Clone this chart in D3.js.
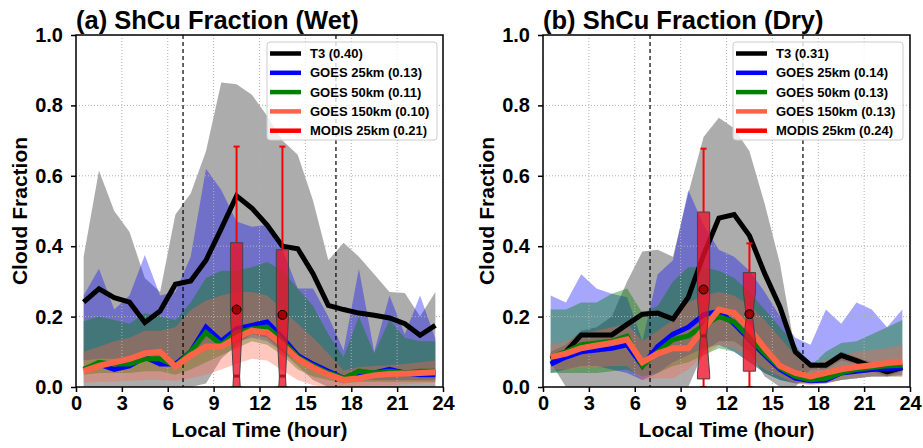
<!DOCTYPE html>
<html lang="en">
<head>
<meta charset="UTF-8">
<title>ShCu Fraction</title>
<script src="https://d3js.org/d3.v7.min.js"></script>
<style>
  body { margin: 0; background: #fff; }
  text { font-family: "Liberation Sans", Arial, sans-serif; font-weight: bold; }
</style>
</head>
<body>
<div id="chart"></div>
<script>
// local hour (bin centres)
const hours = [0.5,1.5,2.5,3.5,4.5,5.5,6.5,7.5,8.5,9.5,10.5,11.5,12.5,13.5,14.5,15.5,16.5,17.5,18.5,19.5,20.5,21.5,22.5,23.5];
const xTicks = [0,3,6,9,12,15,18,21,24];
const yTicks = [0,0.2,0.4,0.6,0.8,1.0];
const dashedHours = [7, 17];

// ---- wet ----
const wetT3    = [0.241,0.279,0.254,0.241,0.183,0.216,0.292,0.301,0.36,0.45,0.543,0.508,0.46,0.40,0.393,0.322,0.232,0.22,0.21,0.204,0.196,0.18,0.147,0.175];
const wetT3Hi  = [0.37,0.615,0.5,0.44,0.31,0.27,0.49,0.55,0.67,0.865,0.86,0.83,0.77,0.7,0.66,0.53,0.36,0.41,0.37,0.32,0.27,0.267,0.2,0.27];
const wetT3Lo  = [0,0,0,0,0,0,0,0,0.01,0.08,0.12,0.15,0.14,0.1,0.06,0.02,0,0,0,0,0,0,0,0];
const wetG25   = [0.05,0.065,0.05,0.06,0.085,0.065,0.065,0.1,0.17,0.13,0.165,0.175,0.185,0.14,0.09,0.065,0.045,0.025,0.03,0.04,0.05,0.04,0.035,0.035];
const wetG25Hi = [0.26,0.336,0.22,0.26,0.375,0.26,0.27,0.37,0.62,0.56,0.47,0.455,0.46,0.39,0.28,0.28,0.2,0.104,0.336,0.1,0.26,0.15,0.26,0.137];
const wetG25Lo = [0.075,0.08,0.08,0.08,0.085,0.085,0.07,0.09,0.11,0.12,0.13,0.14,0.13,0.1,0.07,0.05,0.03,0.02,0.02,0.02,0.02,0.02,0.02,0.02];
const wetG50   = [0.05,0.07,0.065,0.065,0.08,0.08,0.06,0.1,0.155,0.12,0.155,0.165,0.17,0.13,0.085,0.06,0.04,0.025,0.045,0.04,0.045,0.04,0.045,0.045];
const wetG50Hi = [0.187,0.2,0.19,0.18,0.21,0.2,0.19,0.24,0.31,0.33,0.33,0.34,0.355,0.33,0.28,0.23,0.15,0.085,0.2,0.095,0.19,0.14,0.13,0.13];
const wetG50Lo = [0.035,0.04,0.04,0.04,0.045,0.045,0.035,0.05,0.07,0.09,0.11,0.13,0.12,0.09,0.05,0.03,0.02,0.01,0.015,0.015,0.015,0.015,0.015,0.015];
const wetG150   = [0.045,0.06,0.07,0.08,0.095,0.1,0.058,0.09,0.115,0.115,0.14,0.16,0.155,0.12,0.08,0.055,0.035,0.02,0.025,0.033,0.037,0.038,0.04,0.042];
const wetG150Hi = [0.1,0.114,0.13,0.14,0.16,0.16,0.17,0.218,0.246,0.26,0.27,0.27,0.26,0.22,0.18,0.14,0.095,0.047,0.057,0.06,0.062,0.065,0.07,0.075];
const wetG150Lo = [0.012,0.015,0.015,0.018,0.02,0.02,0.018,0.025,0.035,0.05,0.066,0.08,0.075,0.047,0.02,0.005,0,0,0.003,0.005,0.005,0.008,0.01,0.012];
const wetBoxes = [
  { hour: 10.5, whislo: 0, q1: 0, med: 0.031, q3: 0.41, whishi: 0.683, mean: 0.22, notch: 0.17 },
  { hour: 13.5, whislo: 0, q1: 0, med: 0.031, q3: 0.39, whishi: 0.683, mean: 0.205, notch: 0.17 }
];
const wetLegend = ["T3 (0.40)", "GOES 25km (0.13)", "GOES 50km (0.11)", "GOES 150km (0.10)", "MODIS 25km (0.21)"];

// ---- dry ----
const dryT3    = [0.08,0.1,0.148,0.148,0.148,0.178,0.207,0.21,0.193,0.255,0.375,0.48,0.49,0.43,0.322,0.227,0.1,0.062,0.062,0.09,0.075,0.058,0.043,0.055];
const dryT3Hi  = [0.1,0.12,0.16,0.17,0.2,0.3,0.385,0.39,0.37,0.55,0.71,0.765,0.735,0.67,0.52,0.35,0.1,0.07,0.07,0.1,0.085,0.07,0.055,0.065];
const dryT3Lo  = [0.07,0,0,0,0,0,0,0,0,0,0.1,0.13,0.13,0.1,0.03,0,0,0.05,0.05,0.075,0.065,0.045,0.03,0.045];
const dryG25   = [0.065,0.085,0.1,0.105,0.11,0.12,0.06,0.115,0.15,0.17,0.205,0.215,0.18,0.135,0.09,0.05,0.025,0.018,0.02,0.04,0.045,0.05,0.052,0.055];
const dryG25Hi = [0.26,0.24,0.32,0.28,0.265,0.255,0.13,0.32,0.36,0.56,0.46,0.39,0.37,0.33,0.27,0.2,0.14,0.12,0.22,0.18,0.24,0.22,0.17,0.22];
const dryG25Lo = [0.04,0.05,0.06,0.06,0.05,0.04,0.02,0.04,0.07,0.09,0.11,0.12,0.1,0.07,0.04,0.02,0.01,0.01,0.01,0.02,0.025,0.03,0.03,0.035];
const dryG50   = [0.085,0.1,0.12,0.125,0.13,0.145,0.06,0.1,0.135,0.145,0.175,0.2,0.185,0.14,0.095,0.055,0.03,0.02,0.025,0.04,0.05,0.055,0.06,0.062];
const dryG50Hi = [0.22,0.22,0.24,0.24,0.265,0.28,0.21,0.23,0.3,0.34,0.34,0.33,0.31,0.27,0.22,0.17,0.12,0.06,0.1,0.125,0.13,0.15,0.17,0.19];
const dryG50Lo = [0.04,0.04,0.04,0.04,0.045,0.05,0.03,0.04,0.06,0.07,0.09,0.11,0.1,0.07,0.04,0.02,0.012,0.01,0.012,0.02,0.025,0.03,0.03,0.03];
const dryG150   = [0.085,0.095,0.11,0.118,0.125,0.135,0.07,0.095,0.11,0.11,0.165,0.22,0.21,0.165,0.11,0.06,0.04,0.03,0.04,0.05,0.057,0.062,0.068,0.072];
const dryG150Hi = [0.12,0.13,0.15,0.16,0.17,0.18,0.13,0.16,0.19,0.24,0.26,0.27,0.26,0.23,0.19,0.14,0.09,0.06,0.075,0.09,0.1,0.105,0.11,0.12];
const dryG150Lo = [0.05,0.05,0.055,0.055,0.06,0.06,0.02,0.025,0.025,0.05,0.09,0.12,0.11,0.08,0.05,0.03,0.01,0.005,0.01,0.02,0.025,0.03,0.03,0.03];
const dryBoxes = [
  { hour: 10.5, whislo: 0, q1: 0.023, med: 0.145, q3: 0.497, whishi: 0.677, mean: 0.277, notch: 0.11 },
  { hour: 13.5, whislo: 0, q1: 0.045, med: 0.2, q3: 0.325, whishi: 0.408, mean: 0.207, notch: 0.07 }
];
const dryLegend = ["T3 (0.31)", "GOES 25km (0.14)", "GOES 50km (0.13)", "GOES 150km (0.13)", "MODIS 25km (0.24)"];

const seriesColors = ["black", "blue", "green", "tomato", "red"];
const bandColors = ["gray", "blue", "green", "tomato"];
const bandOpacity = [0.65, 0.35, 0.4, 0.36];

const W = 923, H = 448;
const svg = d3.select("#chart").append("svg").attr("width", W).attr("height", H);

function drawPanel(id, left, title, lines, bands, boxes, legendLabels, legendX) {
  const top = 35, plotW = 367, plotH = 352;
  const x = d3.scaleLinear().domain([0, 24]).range([0, plotW]);
  const y = d3.scaleLinear().domain([0, 1]).range([plotH, 0]);
  const g = svg.append("g").attr("transform", `translate(${left},${top})`);

  g.append("clipPath").attr("id", "clip" + id)
    .append("rect").attr("width", plotW).attr("height", plotH);
  const body = g.append("g").attr("clip-path", `url(#clip${id})`);

  // spread bands
  bands.forEach((b, i) => {
    const area = d3.area()
      .x((d, j) => x(hours[j]))
      .y0((d, j) => y(b[0][j]))
      .y1((d, j) => y(b[1][j]));
    body.append("path").datum(hours).attr("d", area)
      .attr("fill", bandColors[i]).attr("fill-opacity", bandOpacity[i]).attr("stroke", "none");
  });

  // grid
  body.selectAll(".gx").data(xTicks).enter().append("line")
    .attr("x1", d => x(d)).attr("x2", d => x(d)).attr("y1", 0).attr("y2", plotH)
    .attr("stroke", "#b0b0b0").attr("stroke-width", 1).attr("stroke-dasharray", "1,2");
  body.selectAll(".gy").data(yTicks).enter().append("line")
    .attr("y1", d => y(d)).attr("y2", d => y(d)).attr("x1", 0).attr("x2", plotW)
    .attr("stroke", "#b0b0b0").attr("stroke-width", 1).attr("stroke-dasharray", "1,2");

  // morning / evening markers
  body.selectAll(".dash").data(dashedHours).enter().append("line")
    .attr("x1", d => x(d)).attr("x2", d => x(d)).attr("y1", 0).attr("y2", plotH)
    .attr("stroke", "black").attr("stroke-width", 1.2).attr("stroke-dasharray", "4,3");

  // mean lines
  const lineGen = d3.line().x((d, j) => x(hours[j])).y(d => y(d));
  const widths = [5, 5, 5, 6];
  lines.forEach((vals, i) => {
    body.append("path").datum(vals).attr("d", lineGen)
      .attr("fill", "none").attr("stroke", seriesColors[i])
      .attr("stroke-width", widths[i]).attr("stroke-linejoin", "miter");
  });

  // MODIS notched boxes
  const bw = x(0.8) - x(0);
  boxes.forEach(b => {
    const cx = x(b.hour);
    const l = cx - bw / 2, r = cx + bw / 2, nl = cx - bw / 4, nr = cx + bw / 4;
    const nHi = b.med + b.notch, nLo = b.med - b.notch;
    const pts = [
      [l, y(b.q1)], [l, y(nLo)], [nl, y(b.med)], [l, y(nHi)], [l, y(b.q3)],
      [r, y(b.q3)], [r, y(nHi)], [nr, y(b.med)], [r, y(nLo)], [r, y(b.q1)]
    ];
    // whiskers
    body.append("line").attr("x1", cx).attr("x2", cx).attr("y1", y(b.q3)).attr("y2", y(b.whishi))
      .attr("stroke", "red").attr("stroke-width", 2);
    body.append("line").attr("x1", cx).attr("x2", cx).attr("y1", y(b.q1)).attr("y2", y(b.whislo))
      .attr("stroke", "red").attr("stroke-width", 2);
    [b.whishi, b.whislo].forEach(v => {
      body.append("line").attr("x1", cx - bw / 4).attr("x2", cx + bw / 4)
        .attr("y1", y(v)).attr("y2", y(v)).attr("stroke", "red").attr("stroke-width", 2);
    });
    body.append("path").attr("d", d3.line()(pts) + "Z")
      .attr("fill", "#ee0f28").attr("fill-opacity", 0.78)
      .attr("stroke", "#444").attr("stroke-width", 1);
    body.append("line").attr("x1", nl).attr("x2", nr).attr("y1", y(b.med)).attr("y2", y(b.med))
      .attr("stroke", "#a81820").attr("stroke-width", 3);
    body.append("circle").attr("cx", cx).attr("cy", y(b.mean)).attr("r", 4.5)
      .attr("fill", "#a00000").attr("stroke", "black").attr("stroke-width", 1);
  });

  // frame
  g.append("rect").attr("width", plotW).attr("height", plotH)
    .attr("fill", "none").attr("stroke", "black").attr("stroke-width", 1.5);

  // axes
  const ax = g.append("g").attr("transform", `translate(0,${plotH})`)
    .call(d3.axisBottom(x).tickValues(xTicks).tickSize(5).tickPadding(4).tickFormat(d3.format("d")));
  const ay = g.append("g")
    .call(d3.axisLeft(y).tickValues(yTicks).tickSize(5).tickPadding(8).tickFormat(d3.format(".1f")));
  [ax, ay].forEach(a => {
    a.select(".domain").remove();
    a.selectAll(".tick line").attr("stroke", "black").attr("stroke-width", 1.5);
    a.selectAll("text").attr("font-size", 20).attr("fill", "black")
      .style("font-family", '"Liberation Sans", Arial, sans-serif').style("font-weight", "bold");
  });

  g.append("text").attr("x", 0).attr("y", -6).attr("font-size", 25.5).text(title);
  g.append("text").attr("x", plotW / 2).attr("y", plotH + 50).attr("text-anchor", "middle")
    .attr("font-size", 21).text("Local Time (hour)");
  g.append("text").attr("transform", `translate(-49,${plotH / 2}) rotate(-90)`)
    .attr("text-anchor", "middle").attr("font-size", 21).text("Cloud Fraction");

  // legend
  const lg = svg.append("g").attr("transform", `translate(${legendX},42)`);
  lg.append("rect").attr("width", 170).attr("height", 98).attr("rx", 3)
    .attr("fill", "white").attr("fill-opacity", 0.8).attr("stroke", "#cccccc");
  legendLabels.forEach((t, i) => {
    const yy = 11.5 + i * 19.3;
    lg.append("line").attr("x1", 3).attr("x2", 34).attr("y1", yy).attr("y2", yy)
      .attr("stroke", seriesColors[i]).attr("stroke-width", 4.5);
    lg.append("text").attr("x", 43).attr("y", yy + 4.6).attr("font-size", 13).text(t);
  });
}

drawPanel("a", 76, "(a) ShCu Fraction (Wet)",
  [wetT3, wetG25, wetG50, wetG150],
  [[wetT3Lo, wetT3Hi], [wetG25Lo, wetG25Hi], [wetG50Lo, wetG50Hi], [wetG150Lo, wetG150Hi]],
  wetBoxes, wetLegend, 267);

drawPanel("b", 543, "(b) ShCu Fraction (Dry)",
  [dryT3, dryG25, dryG50, dryG150],
  [[dryT3Lo, dryT3Hi], [dryG25Lo, dryG25Hi], [dryG50Lo, dryG50Hi], [dryG150Lo, dryG150Hi]],
  dryBoxes, dryLegend, 733);
</script>
</body>
</html>
